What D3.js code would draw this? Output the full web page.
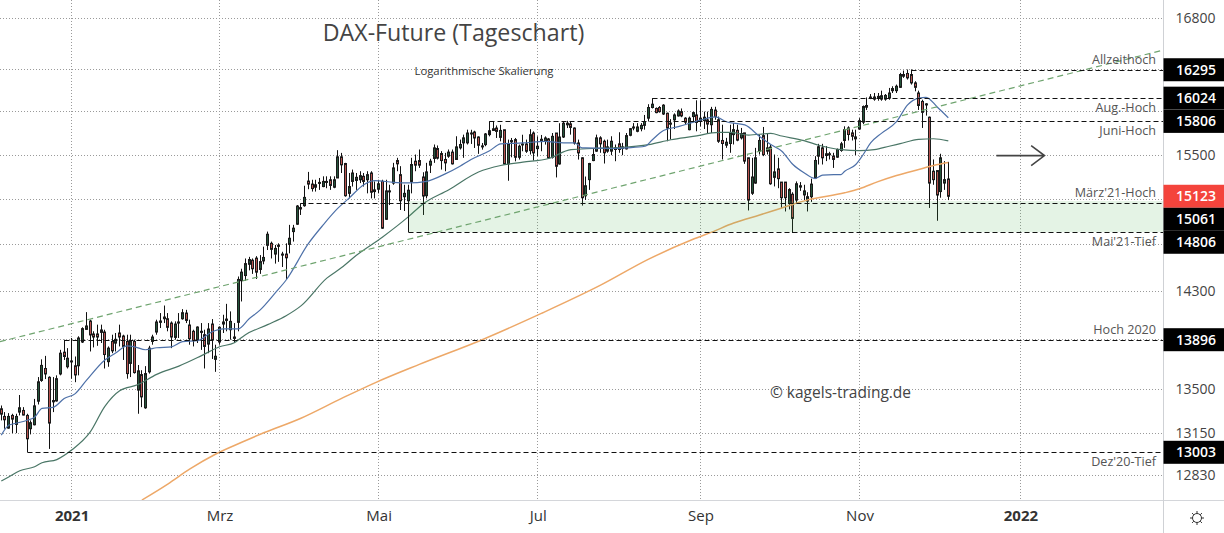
<!DOCTYPE html>
<html>
<head>
<meta charset="utf-8">
<script src="https://cdn.jsdelivr.net/npm/d3@7"></script>
<style>
  html, body { margin: 0; background: #fff; overflow: hidden; }
  text { font-family: "Open Sans", sans-serif; }
</style>
</head>
<body>
<div id="vis"></div>
<script>
// daily candles, [open, high, low, close], index 0 is mid December 2020
const candles = [
  [13341,13367,13250,13299],[13281,13315,13185,13255],[13190,13307,13185,13281],[13289,13302,13151,13260],
  [13219,13302,13151,13281],[13315,13450,13289,13349],[13328,13354,13289,13292],[13289,13302,13029,13107],
  [13185,13250,13141,13232],[13216,13419,13211,13364],[13401,13593,13375,13555],[13566,13736,13555,13687],
  [13662,13764,13577,13618],[13591,13599,13029,13229],[13396,13593,13315,13406],[13403,13607,13398,13580],
  [13618,13813,13607,13786],[13794,13855,13731,13759],[13676,13827,13662,13745],[13715,13910,13580,13723],
  [13684,13759,13552,13610],[13684,13924,13607,13910],[13877,13998,13869,13987],[13981,14124,13978,14009],
  [14050,14061,13800,13935],[13943,13965,13833,13918],[13943,14020,13846,13918],[13956,14020,13869,13976],
  [13959,13978,13662,13775],[13717,13841,13676,13827],[13882,13937,13786,13805],[13868,13951,13800,13899],
  [13951,14020,13841,13918],[13926,13937,13731,13841],[13882,13937,13580,13621],[13703,13937,13593,13882],
  [13882,13896,13621,13629],[13489,13690,13302,13643],[13613,13648,13354,13435],[13349,13681,13341,13621],
  [13635,13846,13621,13827],[13882,13937,13855,13918],[13959,14061,13937,14042],[14039,14116,13992,14050],
  [14069,14179,14033,14083],[14069,14116,13965,13998],[14033,14047,13827,13918],[13915,14047,13896,14025],
  [14033,14116,13910,14042],[14069,14149,14061,14119],[14116,14143,14033,14055],[14017,14061,13855,13904],
  [13965,13978,13841,13888],[13890,14006,13869,14000],[13956,14033,13813,13965],[13937,13978,13662,13841],
  [13860,14033,13786,13984],[14025,14066,13739,13896],[13736,13855,13635,13761],[13877,14006,13855,13998],
  [14025,14102,13951,14042],[14055,14193,13965,14066],[13978,14130,13896,14047],[13907,14033,13869,13918],
  [14039,14424,13965,14399],[14388,14490,14213,14461],[14432,14578,14388,14534],[14528,14592,14476,14569],
  [14563,14578,14446,14490],[14581,14598,14403,14461],[14484,14607,14446,14551],[14557,14680,14528,14587],
  [14692,14811,14651,14788],[14709,14724,14578,14657],[14616,14695,14534,14665],[14683,14709,14549,14692],
  [14607,14636,14505,14616],[14616,14709,14403,14584],[14700,14870,14622,14753],[14811,14870,14724,14841],
  [14876,15045,14870,15036],[15010,15054,14957,15022],[15039,15217,15030,15113],[15259,15342,15186,15232],
  [15232,15271,15165,15192],[15204,15271,15165,15226],[15241,15287,15180,15247],[15210,15302,15204,15256],
  [15247,15302,15195,15256],[15271,15302,15180,15220],[15204,15302,15195,15271],[15287,15540,15287,15479],
  [15479,15515,15332,15406],[15418,15424,15119,15128],[15149,15332,15104,15210],[15256,15363,15210,15332],
  [15265,15332,15180,15293],[15271,15348,15241,15308],[15302,15332,15210,15256],[15271,15348,15149,15317],
  [15332,15348,15104,15159],[15165,15256,15104,15180],[15186,15271,15149,15235],[15256,15271,14835,14841],
  [14919,15271,14914,15171],[15165,15226,15045,15171],[15241,15424,15226,15378],[15445,15470,15348,15415],
  [15317,15394,15001,15083],[15119,15226,14992,15149],[15083,15226,14957,15177],[15256,15470,15149,15409],
  [15439,15500,15348,15403],[15445,15546,15378,15403],[15296,15339,14957,15125],[15128,15424,15104,15342],
  [15403,15461,15332,15439],[15464,15592,15424,15561],[15555,15583,15455,15467],[15509,15531,15363,15445],
  [15455,15515,15348,15424],[15485,15546,15470,15522],[15522,15546,15409,15415],[15455,15668,15455,15570],
  [15561,15637,15546,15592],[15607,15683,15470,15653],[15607,15729,15592,15698],[15689,15728,15597,15698],
  [15707,15719,15560,15652],[15661,15667,15506,15585],[15570,15606,15545,15579],[15591,15698,15576,15689],
  [15719,15805,15667,15683],[15722,15805,15719,15737],[15744,15768,15652,15713],[15658,15774,15621,15722],
  [15728,15728,15408,15414],[15414,15637,15262,15597],[15616,15652,15475,15628],[15637,15652,15438,15475],
  [15475,15591,15454,15576],[15591,15682,15530,15597],[15597,15637,15515,15530],[15536,15734,15500,15682],
  [15698,15713,15445,15515],[15554,15667,15484,15576],[15620,15680,15530,15640],[15622,15667,15591,15652],
  [15643,15652,15463,15469],[15475,15698,15463,15667],[15698,15698,15292,15393],[15414,15789,15408,15661],
  [15661,15805,15652,15789],[15774,15811,15744,15789],[15783,15805,15683,15750],[15744,15750,15591,15606],
  [15606,15637,15454,15515],[15470,15475,15040,15110],[15127,15300,15090,15217],[15272,15424,15180,15418],
  [15445,15552,15439,15500],[15531,15683,15525,15653],[15653,15668,15516,15598],[15622,15637,15418,15516],
  [15531,15637,15516,15570],[15531,15668,15494,15622],[15546,15592,15439,15561],[15598,15705,15516,15546],
  [15555,15607,15494,15570],[15552,15698,15546,15674],[15677,15744,15668,15738],[15744,15790,15723,15754],
  [15714,15790,15705,15754],[15738,15790,15714,15769],[15769,15866,15729,15805],[15836,15967,15805,15936],
  [15936,16019,15927,15967],[15927,15936,15882,15888],[15936,15949,15888,15897],[15875,15967,15866,15958],
  [15882,15888,15622,15744],[15780,15827,15638,15790],[15820,15881,15735,15866],[15857,15918,15851,15903],
  [15897,15927,15845,15857],[15836,15845,15775,15799],[15729,15851,15723,15836],[15851,15897,15805,15888],
  [15866,16004,15714,15796],[15805,16004,15760,15836],[15814,15897,15735,15845],[15820,15897,15698,15781],
  [15775,15942,15698,15918],[15912,15943,15821,15851],[15821,15851,15607,15622],[15629,15775,15455,15601],
  [15586,15653,15561,15613],[15601,15775,15516,15699],[15683,15790,15592,15729],[15723,15775,15622,15632],
  [15653,15745,15638,15693],[15699,15699,15415,15440],[15470,15470,14997,15089],[15150,15470,15135,15296],
  [15241,15561,15235,15470],[15531,15683,15500,15629],[15674,15754,15485,15500],[15531,15690,15500,15561],
  [15568,15592,15226,15235],[15293,15500,15211,15342],[15369,15470,15195,15281],[15250,15250,15019,15110],
  [15250,15250,14988,15110],[15058,15195,15006,15183],[15141,15159,14799,14927],[15089,15256,15058,15235],
  [15205,15250,15171,15217],[15135,15226,15089,15171],[15080,15159,14988,15119],[15119,15281,15073,15232],
  [15287,15485,15281,15446],[15485,15598,15409,15571],[15561,15598,15409,15470],[15491,15577,15440,15507],
  [15500,15525,15455,15507],[15485,15516,15378,15455],[15476,15555,15470,15546],[15537,15616,15525,15598],
  [15629,15760,15561,15729],[15745,15760,15629,15684],[15699,15729,15629,15668],[15644,15729,15494,15662],
  [15735,15836,15729,15812],[15799,15955,15781,15945],[15939,16031,15913,15955],[16025,16063,16015,16035],
  [16015,16073,16000,16035],[16025,16073,16000,16041],[16015,16095,16000,16047],[16015,16063,16000,16050],
  [16025,16121,16009,16073],[16095,16137,16073,16115],[16095,16153,16073,16137],[16127,16265,16121,16249],
  [16233,16287,16217,16249],[16259,16297,16201,16217],[16249,16297,16153,16169],[16169,16185,16089,16127],
  [16073,16095,15913,15955],[15993,16009,15745,15891],[15960,15977,15860,15970],[15845,15851,15019,15241],
  [15348,15455,15226,15272],[15354,15354,14906,15134],[15165,15507,15110,15470],[15241,15440,15180,15272],
  [15278,15433,15089,15123]
];

// moving averages, [candle index, price]
const maBlue = [[0,13135],[2,13212],[4,13228],[7,13251],[9,13274],[11,13344],[14,13352],[17,13422],[20,13461],[23,13566],
  [28,13731],[31,13789],[34,13846],[36,13838],[39,13814],[42,13830],[46,13838],[49,13880],[53,13888],[57,13961],[60,13985],
  [64,13985],[67,14069],[70,14143],[74,14283],[77,14394],[83,14706],[87,14869],[91,15017],[94,15106],[98,15227],[101,15264],
  [106,15248],[110,15243],[115,15257],[120,15324],[124,15394],[127,15455],[132,15534],[135,15597],[141,15606],[147,15621],
  [152,15606],[155,15606],[157,15561],[158,15561],[166,15555],[169,15561],[174,15576],[176,15636],[179,15721],[183,15757],
  [189,15818],[193,15848],[196,15803],[201,15773],[205,15666],[208,15591],[211,15530],[214,15409],[217,15334],[220,15282],
  [222,15312],[225,15318],[227,15318],[228,15348],[231,15409],[233,15500],[235,15606],[238,15697],[242,15803],[245,15961],
  [248,16025],[250,16032],[253,15941],[256,15840]];
const maGreen = [[0,12784],[2,12815],[5,12862],[9,12893],[11,12923],[15,12947],[19,13020],[24,13158],[28,13360],[32,13484],
  [37,13533],[42,13615],[48,13681],[54,13764],[59,13838],[63,13871],[66,13937],[72,14020],[77,14094],[81,14176],[88,14410],
  [92,14500],[96,14606],[103,14762],[110,14940],[114,15055],[121,15182],[129,15341],[135,15400],[141,15430],[148,15464],
  [154,15545],[160,15555],[167,15564],[175,15591],[181,15636],[187,15666],[194,15703],[197,15703],[202,15679],[208,15694],
  [211,15670],[217,15627],[221,15585],[227,15545],[232,15536],[236,15545],[240,15576],[243,15600],[248,15640],[252,15645],[256,15625]];
const maOrange = [[38,12642],[45,12762],[51,12876],[58,12990],[65,13080],[70,13142],[81,13267],[92,13423],[101,13547],[113,13695],
  [130,13896],[146,14113],[162,14350],[175,14572],[187,14744],[192,14806],[198,14886],[205,14957],[211,15019],[218,15091],
  [228,15154],[232,15190],[237,15254],[242,15309],[248,15364],[252,15400],[256,15427]];
const trendLine = [[-0.35,13880],[314,16484]];

const gridPrices = [16800,16300,15900,15500,15100,14700,14300,13900,13500,13150,12830];
const axisPrices = [16800,15500,14300,13500,13150,12830];
const monthTicks = [19,59,102,145,189,232,275.5];
const monthLabels = ["2021","Mrz","Mai","Jul","Sep","Nov","2022"];

// horizontal levels: price, first candle, far end of the small stub, note, note side
const levels = [
  { price: 16295, start: 246, stub: 16240, note: "Allzeithoch", side: -1 },
  { price: 16024, start: 176, stub: 15967, note: "Aug.-Hoch", side: 1 },
  { price: 15806, start: 132, stub: 15683, note: "Juni-Hoch", side: 1 },
  { price: 15061, start: 81, stub: 15022, note: "März'21-Hoch", side: -1 },
  { price: 14806, start: 110, stub: 15061, note: "Mai'21-Tief", side: 1 },
  { price: 13896, start: 17, stub: 13794, note: "Hoch 2020", side: -1 },
  { price: 13003, start: 7, stub: 13107, note: "Dez'20-Tief", side: 1 }
];
const lastPrice = 15123;
const zoneTop = 15080;
const zoneBottom = 14806;

const width = 1224, height = 533, plotRight = 1163.5, plotBottom = 500;

const x = d3.scaleLinear().domain([0, 256]).range([1.3, 948.3]);
const y = d3.scaleLog().domain([12830, 16800]).range([475, 18]);

const svg = d3.select("#vis").append("svg")
  .attr("width", width)
  .attr("height", height)
  .style("display", "block");

svg.append("defs").append("clipPath").attr("id", "plot")
  .append("rect").attr("width", plotRight).attr("height", plotBottom);

const plot = svg.append("g").attr("clip-path", "url(#plot)");

// grid
plot.selectAll(".gy").data(gridPrices).enter().append("line")
  .attr("x1", 0).attr("x2", plotRight)
  .attr("y1", d => Math.round(y(d)) + 0.5).attr("y2", d => Math.round(y(d)) + 0.5)
  .attr("stroke", "#9a9a9a").attr("stroke-dasharray", "1,2");
plot.selectAll(".gx").data(monthTicks).enter().append("line")
  .attr("x1", d => Math.floor(x(d)) + 0.5).attr("x2", d => Math.floor(x(d)) + 0.5)
  .attr("y1", 0).attr("y2", plotBottom)
  .attr("stroke", "#9a9a9a").attr("stroke-dasharray", "1,2");

// candles
const candle = plot.selectAll(".candle").data(candles).enter().append("g");
candle.append("line")
  .attr("x1", (d, i) => Math.floor(x(i)) + 0.5).attr("x2", (d, i) => Math.floor(x(i)) + 0.5)
  .attr("y1", d => y(d[1])).attr("y2", d => y(d[2]))
  .attr("stroke", "#111");
candle.append("rect")
  .attr("x", (d, i) => Math.floor(x(i)) - 0.5)
  .attr("width", 2)
  .attr("y", d => y(Math.max(d[0], d[3])))
  .attr("height", d => Math.max(1, Math.abs(y(d[0]) - y(d[3]))))
  .attr("fill", d => d[3] >= d[0] ? "#24543a" : "#b8524f")
  .attr("stroke", "#1a1a1a");

// moving averages
const line = d3.line().x(d => x(d[0])).y(d => y(d[1])).curve(d3.curveMonotoneX);
plot.append("path").attr("d", line(maOrange)).attr("fill", "none").attr("stroke", "#eda868").attr("stroke-width", 1.5);
plot.append("path").attr("d", line(maGreen)).attr("fill", "none").attr("stroke", "#4a7666").attr("stroke-width", 1.2);
plot.append("path").attr("d", line(maBlue)).attr("fill", "none").attr("stroke", "#4d70a8").attr("stroke-width", 1.2);

// support zone, drawn over the candles like the original
plot.append("rect")
  .attr("x", x(110)).attr("width", plotRight - x(110))
  .attr("y", y(zoneTop)).attr("height", y(zoneBottom) - y(zoneTop))
  .attr("fill", "rgba(76,175,80,0.15)");

// trend line
plot.append("path").attr("d", d3.line().x(d => x(d[0])).y(d => y(d[1]))(trendLine))
  .attr("fill", "none").attr("stroke", "#6fa46f").attr("stroke-width", 1.2).attr("stroke-dasharray", "6,4");

// levels
plot.selectAll(".level").data(levels).enter().append("line")
  .attr("x1", d => Math.floor(x(d.start)) + 0.5).attr("x2", plotRight)
  .attr("y1", d => Math.round(y(d.price)) + 0.5).attr("y2", d => Math.round(y(d.price)) + 0.5)
  .attr("stroke", "#111").attr("stroke-dasharray", "5,3");
plot.selectAll(".stub").data(levels).enter().append("line")
  .attr("x1", d => Math.floor(x(d.start)) + 0.5).attr("x2", d => Math.floor(x(d.start)) + 0.5)
  .attr("y1", d => y(d.price)).attr("y2", d => y(d.stub))
  .attr("stroke", "#111");

plot.selectAll(".note").data(levels).enter().append("text")
  .attr("x", 1156).attr("y", d => y(d.price) + (d.side < 0 ? -10.5 : 9.5))
  .attr("dy", "0.35em").attr("text-anchor", "end")
  .attr("fill", "#555").attr("font-size", 12.6)
  .text(d => d.note);

// arrow
const arrowY = y(15490);
plot.append("path")
  .attr("d", `M${x(269)},${arrowY}H${x(282)}M${x(278.4)},${arrowY - 10}L${x(282)},${arrowY}L${x(278.4)},${arrowY + 10}`)
  .attr("fill", "none").attr("stroke", "#444").attr("stroke-width", 1.6);

// titles
svg.append("text").attr("x", 453.5).attr("y", 33).attr("dy", "0.35em").attr("text-anchor", "middle")
  .attr("font-size", 23.2).attr("fill", "#444").text("DAX-Future (Tageschart)");
svg.append("text").attr("x", 484).attr("y", 71).attr("dy", "0.35em").attr("text-anchor", "middle")
  .attr("font-size", 11.3).attr("fill", "#333").text("Logarithmische Skalierung");
svg.append("text").attr("x", 840.5).attr("y", 393).attr("dy", "0.35em").attr("text-anchor", "middle")
  .attr("font-size", 15.5).attr("fill", "#444").text("© kagels-trading.de");

// axes
const xAxis = svg.append("g").attr("transform", `translate(0,${plotBottom})`)
  .call(d3.axisBottom(x).tickValues(monthTicks).tickSize(0).tickPadding(10)
    .tickFormat((d, i) => monthLabels[i]));
xAxis.select(".domain").remove();
xAxis.selectAll("text").attr("font-size", 15).attr("fill", "#333")
  .attr("font-family", "Open Sans, sans-serif")
  .attr("font-weight", (d, i) => i === 0 || i === 6 ? 700 : 400);

const yAxis = svg.append("g").attr("transform", `translate(${plotRight},0)`)
  .call(d3.axisRight(y).tickValues(axisPrices).tickSize(0).tickPadding(12)
    .tickFormat(d3.format("d")));
yAxis.select(".domain").remove();
yAxis.selectAll("text").attr("font-size", 14).attr("fill", "#444")
  .attr("font-family", "Open Sans, sans-serif");

svg.append("line").attr("x1", 0).attr("x2", width).attr("y1", plotBottom + 0.5).attr("y2", plotBottom + 0.5).attr("stroke", "#d4d6da");
svg.append("line").attr("x1", plotRight).attr("x2", plotRight).attr("y1", 0).attr("y2", height).attr("stroke", "#cfd1d5");

// price boxes, pushed apart the way the platform stacks them
const boxes = levels.map(d => ({ price: d.price, fill: "#000" }))
  .concat([{ price: lastPrice, fill: "#f4443c" }])
  .sort((a, b) => b.price - a.price);
let prev = -Infinity;
boxes.forEach(d => {
  d.cy = Math.max(y(d.price), prev + 23);
  prev = d.cy;
});
const box = svg.selectAll(".box").data(boxes).enter().append("g");
box.append("rect").attr("x", plotRight).attr("width", width - plotRight)
  .attr("y", d => d.cy - 11.5).attr("height", 23).attr("fill", d => d.fill);
box.append("text").attr("x", plotRight + 12.5).attr("y", d => d.cy).attr("dy", "0.35em")
  .attr("font-size", 14).attr("font-weight", 600).attr("fill", "#fff").text(d => d.price);

// settings icon
const sun = svg.append("g").attr("transform", "translate(1197,518)");
sun.append("circle").attr("r", 4.5).attr("fill", "none").attr("stroke", "#333");
sun.selectAll("line").data(d3.range(8)).enter().append("line")
  .attr("x1", d => 4.5 * Math.cos(d * Math.PI / 4)).attr("y1", d => 4.5 * Math.sin(d * Math.PI / 4))
  .attr("x2", d => 7 * Math.cos(d * Math.PI / 4)).attr("y2", d => 7 * Math.sin(d * Math.PI / 4))
  .attr("stroke", "#333");
</script>
</body>
</html>
